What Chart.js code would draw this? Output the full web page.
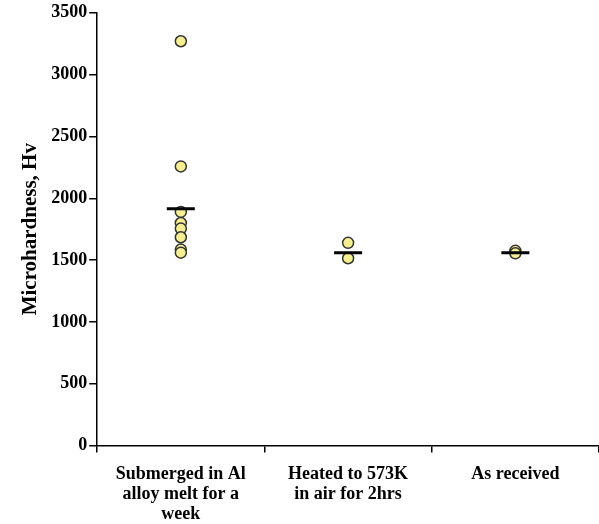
<!DOCTYPE html>
<html>
<head>
<meta charset="utf-8">
<script src="https://cdn.jsdelivr.net/npm/chart.js@4/dist/chart.umd.min.js"></script>
<style>
  html, body { margin: 0; padding: 0; background: #fff; }
  #wrap { width: 599px; height: 524px; }
</style>
</head>
<body>
<div id="wrap"><canvas id="canvas" width="599" height="524"></canvas></div>
<script>
// categories on the x axis (multi-line labels)
let categories = [
  ['Submerged in Al', 'alloy melt for a', 'week'],
  ['Heated to 573K', 'in air for 2hrs'],
  ['As received']
];
// individual measurements, Hv
let submergedValues = [3270, 2258, 1890, 1800, 1755, 1685, 1585, 1560];
let heatedValues = [1640, 1515];
let receivedValues = [1575, 1555];
// average per category (the short black bars)
let meanValues = [1915, 1560, 1560];

let yTicks = {min: 0, max: 3500, step: 500};

let catKeys = categories.map(function(c, i){ return 'c' + i; });
let groups = [submergedValues, heatedValues, receivedValues];

let pointData = [];
groups.forEach(function(vals, i){
  vals.forEach(function(v){
    pointData.push({x: catKeys[i], y: v});
  });
});
let meanData = meanValues.map(function(v, i){ return {x: catKeys[i], y: v}; });

let font = '"Liberation Serif", "Times New Roman", serif';

let ctx = document.getElementById('canvas').getContext('2d');
let chart = new Chart(ctx, {
  type: 'scatter',
  data: {
    labels: catKeys,
    datasets: [{
      label: 'mean',
      data: meanData,
      pointStyle: 'line',
      radius: 14,
      hoverRadius: 14,
      borderColor: '#000',
      borderWidth: 3,
      order: 0
    }, {
      label: 'measured',
      data: pointData,
      pointStyle: 'circle',
      radius: 5.5,
      hoverRadius: 5.5,
      backgroundColor: '#f6ef8e',
      borderColor: '#333',
      borderWidth: 1.5,
      order: 1
    }]
  },
  options: {
    responsive: false,
    animation: false,
    layout: { autoPadding: false, padding: {top: 6, right: 0, left: 18, bottom: -12} },
    plugins: { legend: {display: false}, tooltip: {enabled: false} },
    scales: {
      x: {
        type: 'category',
        labels: catKeys,
        offset: true,
        afterFit: function(scale){ scale.paddingRight = 0; scale.paddingLeft = 0; },
        grid: { offset: true, drawOnChartArea: false, tickLength: 7, color: '#000', lineWidth: 1.5 },
        border: { display: true, color: '#000', width: 1.5 },
        ticks: {
          color: '#000',
          maxRotation: 0,
          autoSkip: false,
          padding: 12,
          font: {family: font, size: 18, weight: 'bold', lineHeight: 1.1},
          callback: function(val, idx){ return categories[idx]; }
        }
      },
      y: {
        min: yTicks.min,
        max: yTicks.max,
        grid: { drawOnChartArea: false, tickLength: 8, color: '#000', lineWidth: 1.5 },
        border: { display: true, color: '#000', width: 1.5 },
        ticks: {
          stepSize: yTicks.step,
          color: '#000',
          padding: 2,
          font: {family: font, size: 18, weight: 'bold'},
          callback: function(v){ return String(v); }
        },
        title: {
          display: true,
          text: 'Microhardness, Hv',
          color: '#000',
          padding: {top: 0, bottom: 6},
          font: {family: font, size: 21, weight: 'bold'}
        }
      }
    }
  }
});
</script>
</body>
</html>
